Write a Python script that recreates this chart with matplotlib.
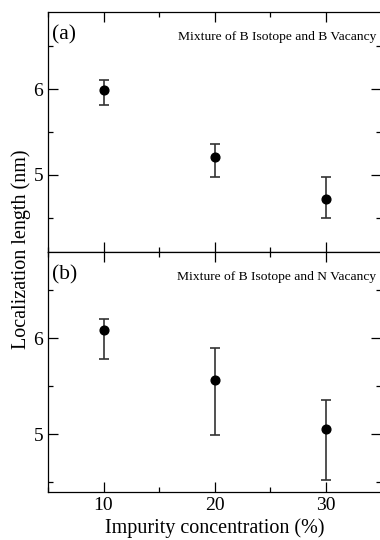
import matplotlib.pyplot as plt
from matplotlib.ticker import MultipleLocator

plt.rcParams["font.family"] = ["Liberation Serif", "DejaVu Serif"]
plt.rcParams["mathtext.fontset"] = "stix"

conc = [10, 20, 30]

# panel (a): B isotope + B vacancy
len_a = [5.99, 5.21, 4.72]
lo_a = [5.82, 4.98, 4.50]
hi_a = [6.11, 5.36, 4.97]

# panel (b): B isotope + N vacancy
len_b = [6.09, 5.57, 5.06]
lo_b = [5.79, 4.99, 4.53]
hi_b = [6.20, 5.90, 5.36]

fig = plt.figure(figsize=(3.8, 5.4), dpi=100)
ax1 = fig.add_axes([48 / 380, 1 - 252 / 540, 1.003 - 48 / 380, 240 / 540])
ax2 = fig.add_axes([48 / 380, 1 - 492 / 540, 1.003 - 48 / 380, 240 / 540])

panels = [
    (ax1, len_a, lo_a, hi_a, (4.1, 6.9), "(a)", "Mixture of B Isotope and B Vacancy"),
    (ax2, len_b, lo_b, hi_b, (4.4, 6.9), "(b)", "Mixture of B Isotope and N Vacancy"),
]

for ax, y, lo, hi, ylim, tag, note in panels:
    yerr = [[v - l for v, l in zip(y, lo)], [h - v for v, h in zip(y, hi)]]
    ax.errorbar(conc, y, yerr=yerr, fmt="o", color="black", ecolor="#333333",
                markersize=6.3, elinewidth=1.2, capsize=3.8, capthick=1.2)
    ax.set_xlim(5, 35)
    ax.set_ylim(*ylim)
    ax.xaxis.set_major_locator(MultipleLocator(10))
    ax.xaxis.set_minor_locator(MultipleLocator(5))
    ax.yaxis.set_major_locator(MultipleLocator(1))
    ax.yaxis.set_minor_locator(MultipleLocator(0.5))
    ax.tick_params(which="both", direction="in", top=True, right=True,
                   labelsize=14, width=0.9)
    ax.tick_params(which="major", length=7)
    ax.tick_params(which="minor", length=3.5)
    for s in ax.spines.values():
        s.set_linewidth(0.9)
    ax.text(0.013, 0.945, tag, transform=ax.transAxes, fontsize=15.5,
            ha="left", va="top")
    ax.text(0.985, 0.92, note, transform=ax.transAxes, fontsize=9.7,
            ha="right", va="top")

ax1.tick_params(labelbottom=False)
ax2.set_xlabel("Impurity concentration (%)", fontsize=14.5, labelpad=3)
fig.text(0.055, 1 - 249 / 540, "Localization length (nm)", fontsize=14.5,
         rotation=90, ha="center", va="center")

fig.savefig("out.png", dpi=100)
